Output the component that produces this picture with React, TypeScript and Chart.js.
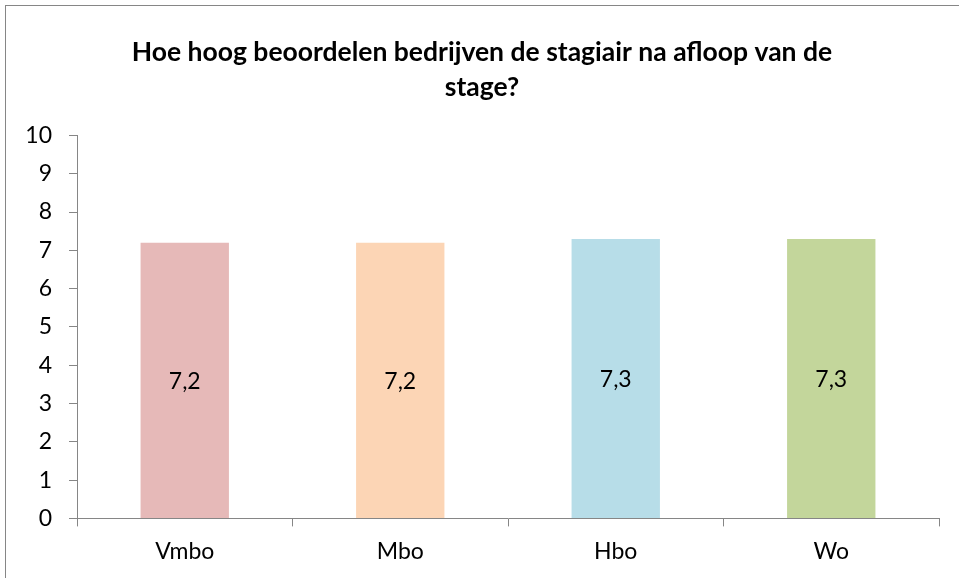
import React, { useEffect, useRef } from "react";
import { Chart, registerables } from "chart.js";

Chart.register(...registerables);

const categories = ["Vmbo", "Mbo", "Hbo", "Wo"];
const values = [7.2, 7.2, 7.3, 7.3];
const labels = ["7,2", "7,2", "7,3", "7,3"];
const barColors = ["#E6B9B8", "#FCD5B5", "#B7DDE8", "#C3D69B"];
const titleLines = ["Hoe hoog beoordelen bedrijven de stagiair na afloop van de", "stage?"];

const FONT = "Lato, 'Open Sans', sans-serif";

const framePlugin = {
  id: "frame",
  beforeDraw(chart: any) {
    const ctx = chart.ctx;
    ctx.save();
    ctx.fillStyle = "#ffffff";
    ctx.fillRect(0, 0, chart.width, chart.height);
    ctx.strokeStyle = "#868686";
    ctx.lineWidth = 1;
    ctx.strokeRect(5.5, 5.5, chart.width + 20, chart.height + 20);
    ctx.restore();
  },
};

const valueLabelPlugin = {
  id: "valueLabels",
  afterDatasetsDraw(chart: any) {
    const ctx = chart.ctx;
    const meta = chart.getDatasetMeta(0);
    ctx.save();
    ctx.fillStyle = "#000000";
    ctx.font = `23px ${FONT}`;
    ctx.textAlign = "center";
    ctx.textBaseline = "middle";
    meta.data.forEach((bar: any, i: number) => {
      const p = bar.getProps(["x", "y", "base"], true);
      ctx.fillText(labels[i], p.x, (p.y + p.base) / 2 + 1);
    });
    ctx.restore();
  },
};

export default function App() {
  const ref = useRef<HTMLCanvasElement>(null);
  useEffect(() => {
    if (!ref.current) return;
    const chart = new Chart(ref.current, {
      type: "bar",
      data: {
        labels: categories,
        datasets: [
          {
            data: values,
            backgroundColor: barColors,
            borderWidth: 0,
            categoryPercentage: 1,
            barPercentage: 0.41,
          },
        ],
      },
      options: {
        animation: false,
        responsive: true,
        maintainAspectRatio: false,
        layout: { padding: { left: 25, right: 20, top: 0, bottom: 2 } },
        plugins: {
          legend: { display: false },
          tooltip: { enabled: false },
          title: {
            display: true,
            text: titleLines,
            color: "#000000",
            font: { family: FONT, size: 26.5, weight: "bold", lineHeight: 1.33 },
            padding: { top: 35, bottom: 30 },
          },
        },
        scales: {
          x: {
            grid: {
              offset: true,
              drawOnChartArea: false,
              drawTicks: true,
              tickLength: 8,
              color: "#868686",
            },
            border: { color: "#868686", width: 1 },
            ticks: { color: "#000000", font: { family: FONT, size: 23 }, padding: 11 },
          },
          y: {
            min: 0,
            max: 10,
            afterFit(scale: any) {
              scale.width = 52;
            },
            ticks: {
              stepSize: 1,
              color: "#000000",
              font: { family: FONT, size: 23 },
              padding: 17,
            },
            grid: {
              drawOnChartArea: false,
              drawTicks: true,
              tickLength: 8,
              color: "#868686",
            },
            border: { color: "#868686", width: 1 },
          },
        },
      },
      plugins: [framePlugin, valueLabelPlugin],
    });
    return () => chart.destroy();
  }, []);
  return (
    <div style={{ position: "fixed", left: 0, top: 0, width: 959, height: 578, background: "#fff" }}>
      <canvas ref={ref} />
    </div>
  );
}
